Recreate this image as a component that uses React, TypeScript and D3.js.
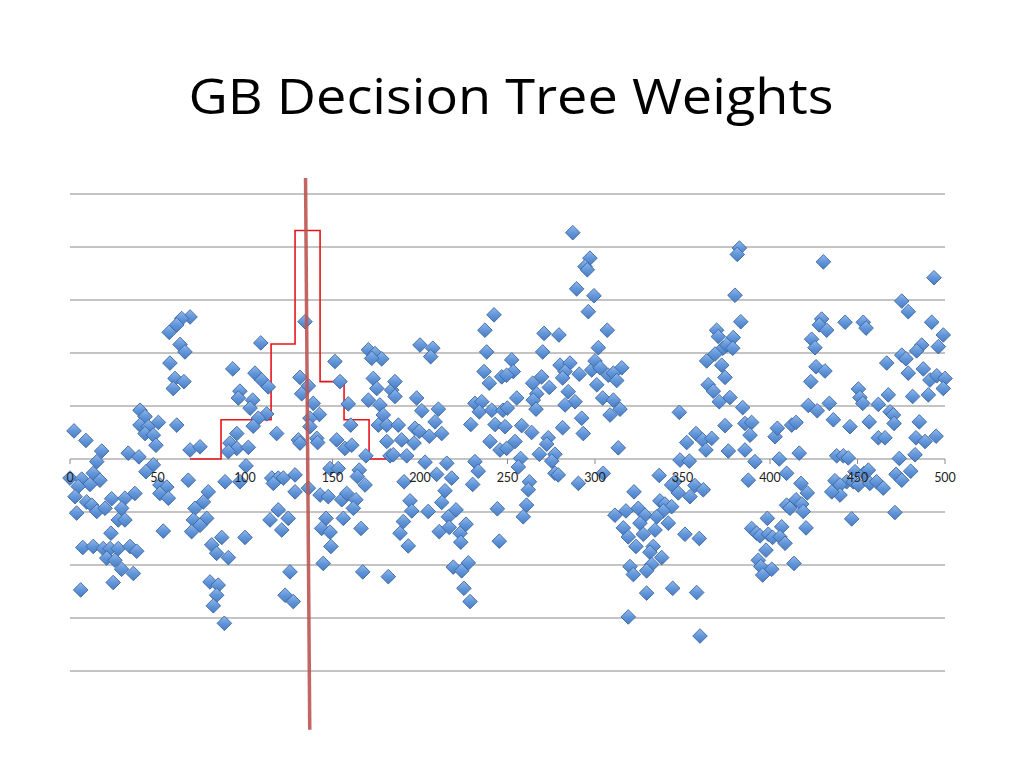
import React from "react";
import * as d3 from "d3";

const chartTitle = "GB Decision Tree Weights";
const xTicks = [0, 50, 100, 150, 200, 250, 300, 350, 400, 450, 500];
const yGridValues = [-4, -3, -2, -1, 0, 1, 2, 3, 4, 5];

// [index, weight] (weight in grid units)
const weights: [number, number][] = [
  [56.7,2.39],[57.1,1.81],[40,0.92],[42.9,0.80],[50.5,0.69],[40,0.64],[44.7,0.61],[42.9,0.48],[47.6,0.45],[49.1,0.26],[2.3,0.53],[9.1,0.35],[18.1,0.15],[15.3,-0.05],[33.3,0.11],[39.4,0.04],[47.6,-0.11],[43.4,-0.24],[0,-0.36],[6.7,-0.38],[13.3,-0.27],[17.1,-0.40],[11.4,-0.48],[4.7,-0.52],[2.9,-0.71],[51.4,-0.49],[55.3,-0.53],[51.4,-0.65],[56.2,-0.74],[9.5,-0.81],[12.4,-0.87],[23.8,-0.75],[31.4,-0.74],[37.1,-0.65],[3.8,-1.02],[15.3,-0.99],[20,-0.93],[29.5,-0.93],[27.6,-1.15],[31.4,-1.15],[53.3,-1.36],[23.4,-1.40],[7.3,-1.67],[13.3,-1.65],[19,-1.69],[22.9,-1.69],[27.6,-1.69],[34.3,-1.65],[38.1,-1.74],[21,-1.87],[25.7,-1.91],[29.5,-2.08],[36.2,-2.16],[24.7,-2.33],[6.1,-2.47],
  [68.6,2.68],[63.8,2.65],[61,2.53],[62.9,2.16],[65.7,2.02],[60,1.52],[65.1,1.46],[59,1.33],[109,2.19],[93,1.70],[105.7,1.62],[109.5,1.49],[113.3,1.36],[97.1,1.28],[96.2,1.15],[104.4,1.11],[102.9,0.96],[112.4,0.85],[107.6,0.77],[104.7,0.62],[61,0.64],[118.1,0.48],[95.3,0.48],[91.4,0.30],[95.3,0.20],[90.5,0.14],[101.9,0.22],[68.6,0.17],[74.3,0.23],[100.6,-0.13],[97.1,-0.43],[88.6,-0.43],[67.6,-0.40],[115.3,-0.36],[119,-0.36],[116.2,-0.46],[79,-0.62],[76.2,-0.81],[71.4,-0.93],[78.1,-1.12],[70.5,-1.15],[74.3,-1.25],[69.5,-1.37],[119,-0.96],[114.3,-1.15],[121,-1.34],[86.7,-1.48],[81,-1.62],[83.8,-1.78],[90.5,-1.86],[100,-1.48],[80,-2.32],[84.7,-2.38],[83.8,-2.57],[81.9,-2.77],[88.2,-3.10],
  [134.3,2.59],[151.4,1.84],[170.5,2.06],[174.3,1.99],[178.1,1.89],[172.4,1.90],[131.4,1.54],[136.2,1.38],[132.4,1.23],[154.3,1.46],[173.3,1.52],[175.3,1.33],[183.8,1.30],[139,1.05],[142.5,0.84],[137.1,0.77],[137.1,0.61],[159,1.04],[170.5,1.11],[177.1,1.02],[179,0.83],[176.2,0.64],[181,0.64],[160.4,0.64],[130.5,0.36],[131.4,0.30],[141,0.39],[141.5,0.31],[152.4,0.36],[157.1,0.20],[161,0.26],[181,0.33],[169.1,0.06],[182.9,0.06],[148.6,-0.18],[153.3,-0.18],[165.3,-0.21],[164.2,-0.33],[168.6,-0.49],[121.9,-0.36],[128.6,-0.30],[128.6,-0.62],[136.2,-0.55],[142.9,-0.68],[147.6,-0.71],[155.3,-0.77],[158.1,-0.65],[163.4,-0.77],[161.9,-0.93],[124.7,-1.12],[146.3,-1.12],[143.8,-1.31],[148.6,-1.38],[156.2,-1.12],[166.3,-1.31],[149.1,-1.65],[144.7,-1.97],[125.7,-2.13],[122.9,-2.57],[127.6,-2.69],[167.3,-2.13],[181.9,-2.22],
  [242.3,2.72],[237.1,2.43],[238.1,2.02],[200,2.15],[207.3,2.09],[206.1,1.93],[236.6,1.65],[239.6,1.43],[246.7,1.55],[185.7,1.46],[185.7,1.18],[198.1,1.15],[201,0.91],[210.5,0.94],[208.6,0.70],[212.4,0.48],[187.6,0.64],[197.1,0.58],[199.6,0.52],[205.3,0.43],[189.5,0.36],[196.6,0.30],[184.7,0.08],[192.4,0.06],[231.4,1.05],[235.3,1.08],[233.9,0.89],[241,0.92],[247.4,0.92],[229,0.65],[242.9,0.65],[240,0.33],[245.7,0.17],[202.9,-0.06],[215.3,-0.08],[209.5,-0.29],[218.1,-0.36],[231.4,-0.05],[233.3,-0.23],[230.1,-0.48],[190.9,-0.43],[214.3,-0.60],[212.4,-0.82],[220.6,-0.96],[216.2,-1.09],[194.3,-0.79],[195.3,-0.98],[204.7,-0.99],[190.5,-1.18],[188.6,-1.40],[193.3,-1.64],[211,-1.37],[216.7,-1.29],[222.9,-1.40],[226.3,-1.23],[223.3,-1.57],[244.2,-0.94],[245.3,-1.55],[219,-2.04],[223.8,-2.11],[227.6,-1.96],[225.1,-2.44],[228.6,-2.69],
  [287.3,4.27],[297.1,3.79],[294.3,3.63],[295.6,3.57],[289.5,3.21],[299.4,3.08],[296.2,2.78],[307,2.43],[270.9,2.37],[279.4,2.34],[270.1,2.02],[252.4,1.87],[253.3,1.65],[249.5,1.58],[269.5,1.55],[264.4,1.43],[273.9,1.35],[266.7,1.23],[264.7,1.11],[266.3,0.94],[255.3,1.15],[249.9,0.96],[280,1.77],[285.7,1.81],[282.9,1.65],[281.5,1.53],[291,1.60],[298.1,1.68],[300,1.85],[301.9,2.10],[302.9,1.72],[307.6,1.58],[301,1.40],[284.7,1.27],[288.6,1.08],[282.9,1.02],[304.4,1.15],[308.6,0.83],[292.4,0.77],[293.3,0.48],[248.6,0.61],[258.1,0.63],[263.8,0.50],[281.5,0.59],[254.3,0.33],[249.5,0.20],[273.3,0.40],[272.4,0.28],[268.2,0.09],[277.1,0.09],[275.3,-0.04],[257.5,0.01],[256.2,-0.15],[277.1,-0.27],[279,-0.30],[290.5,-0.46],[304.7,-0.27],[262.5,-0.43],[261.9,-0.58],[260.9,-0.87],[259,-1.09],
  [315.3,1.72],[310.5,1.62],[312.4,1.48],[310.5,1.11],[314.3,0.94],[313.3,0.21],[369.5,2.43],[370.5,2.31],[373.1,2.09],[363.8,1.85],[368.6,1.98],[372.4,1.77],[364.7,1.40],[367.6,1.28],[371,1.08],[348.2,0.88],[357.7,0.48],[352.4,0.31],[361.5,0.36],[366.7,0.39],[363.4,0.17],[348.6,-0.02],[353.9,-0.04],[336.7,-0.31],[345.7,-0.43],[343.8,-0.49],[357.1,-0.50],[361.9,-0.58],[347.6,-0.64],[354.3,-0.71],[322.3,-0.62],[311.4,-1.06],[317.7,-0.98],[324.7,-0.93],[328.6,-1.06],[337.1,-0.79],[340,-0.85],[343.8,-0.90],[339,-0.98],[335.3,-1.09],[325.7,-1.21],[341.9,-1.21],[316.2,-1.30],[319,-1.47],[327.6,-1.42],[334.3,-1.34],[323.4,-1.65],[333.3,-1.65],[331.4,-1.76],[338.1,-1.86],[351.4,-1.42],[359.6,-1.50],[332.4,-1.99],[320,-2.03],[321.9,-2.18],[329.5,-2.11],[329.5,-2.53],[344.4,-2.44],[358.1,-2.52],[319,-2.98],[360,-3.34],
  [382.5,3.98],[381.3,3.86],[430.5,3.72],[380,3.09],[383.3,2.59],[379,2.29],[375.3,2.15],[378.7,2.09],[374.3,1.54],[377.1,1.16],[384.4,0.97],[374.3,0.63],[385.7,0.67],[389.5,0.69],[388.6,0.45],[402.9,0.42],[404.2,0.58],[412.4,0.64],[414.9,0.69],[376.2,0.15],[385.7,0.17],[391.4,-0.05],[405.3,0],[416.7,0.11],[429.5,2.64],[428.2,2.53],[432.4,2.43],[423.8,2.26],[425.7,2.10],[426.3,1.74],[431.4,1.66],[423.3,1.46],[421.9,1.01],[427,0.91],[433.9,1.05],[387.6,-0.40],[409.5,-0.27],[417.7,-0.46],[421.3,-0.64],[409.5,-0.87],[411.4,-0.93],[414.9,-0.77],[418.1,-0.85],[419,-0.99],[420.6,-1.30],[398.5,-1.12],[389.5,-1.31],[392.4,-1.40],[394.3,-1.45],[399,-1.42],[401.5,-1.48],[406.7,-1.28],[405.7,-1.47],[408.6,-1.59],[397.7,-1.72],[393.3,-1.91],[394.7,-2.03],[401,-2.08],[395.8,-2.19],[413.7,-1.97],
  [493.7,3.42],[475.3,2.98],[479,2.78],[442.9,2.58],[453.3,2.58],[454.9,2.47],[492.4,2.58],[499,2.34],[496.2,2.12],[486.7,2.15],[483.8,2.04],[475.3,1.96],[477.7,1.89],[466.7,1.81],[479,1.62],[487.6,1.70],[491.4,1.49],[495.3,1.57],[500,1.52],[499,1.33],[490.5,1.21],[481.5,1.18],[450.5,1.32],[451.4,1.16],[453,1.05],[461.9,1.03],[467.6,1.21],[468.6,0.89],[470.5,0.83],[470.9,0.67],[436.2,0.74],[445.7,0.61],[456.7,0.70],[485.3,0.70],[461.9,0.40],[465.7,0.40],[483.4,0.40],[488.6,0.33],[494.9,0.43],[438.1,0.06],[441.9,0.06],[444.7,0.02],[473.9,0.01],[482.9,0.08],[480.4,-0.23],[472,-0.29],[475.3,-0.40],[437.1,-0.41],[443.8,-0.43],[448.6,-0.24],[447.6,-0.43],[450.5,-0.49],[453.8,-0.27],[456.2,-0.21],[457.1,-0.46],[460.9,-0.43],[464.7,-0.55],[440,-0.49],[440,-0.68],[435.3,-0.62],[446.7,-1.13],[471.4,-1.01],
];

// step histogram overlay: bin edges (x) and heights
const histEdges = [68.6, 86.3, 114.9, 128.6, 142.9, 156.6, 170.9, 184.6];
const histHeights = [0, 0.74, 2.17, 4.31, 1.46, 0.74, 0];

// vertical threshold line endpoints [x, y]
const thresholdLine: [number, number][] = [[134.6, 5.3], [137.0, -5.11]];

export default function App() {
  const width = 1024;
  const height = 768;
  const x = d3.scaleLinear().domain([0, 500]).range([70, 945]);
  const y = d3.scaleLinear().domain([-4, 5]).range([671, 194]);

  const histPts: [number, number][] = histEdges.map((e, i) => [
    e,
    i < histHeights.length ? histHeights[i] : histHeights[histHeights.length - 1],
  ]);
  const histPath = d3
    .line<[number, number]>()
    .x((d) => x(d[0]))
    .y((d) => y(d[1]))
    .curve(d3.curveStepAfter)(histPts) as string;

  const thrPath = d3
    .line<[number, number]>()
    .x((d) => x(d[0]))
    .y((d) => y(d[1]))(thresholdLine) as string;

  const r = 7.3;
  const diamond = `M0,${-r}L${r},0L0,${r}L${-r},0Z`;

  return (
    <svg
      width={width}
      height={height}
      style={{ position: "absolute", left: 0, top: 0, background: "#fff" }}
    >
      <defs>
        <linearGradient id="dg" x1="0" y1="0" x2="0" y2="1">
          <stop offset="0" stopColor="#93b8ea" />
          <stop offset="0.5" stopColor="#6296da" />
          <stop offset="1" stopColor="#4a7cc2" />
        </linearGradient>
      </defs>
      <text
        x={511}
        y={114}
        textAnchor="middle"
        fontFamily="'Open Sans', Lato, sans-serif"
        fontSize={50}
        textLength={645}
        lengthAdjust="spacingAndGlyphs"
        fill="#000"
      >
        {chartTitle}
      </text>
      <g>
        {yGridValues.map((v) => (
          <line
            key={v}
            x1={x(0)}
            x2={x(500)}
            y1={y(v)}
            y2={y(v)}
            stroke="#8a8a8a"
            strokeWidth={1.2}
          />
        ))}
        {xTicks.map((t) => (
          <line
            key={"t" + t}
            x1={x(t)}
            x2={x(t)}
            y1={y(0)}
            y2={y(0) + 5}
            stroke="#8a8a8a"
            strokeWidth={1}
          />
        ))}
      </g>
      <path d={histPath} fill="none" stroke="#e8141c" strokeWidth={1.6} />
      <g>
        {weights.map((d, i) => (
          <path
            key={i}
            d={diamond}
            transform={`translate(${x(d[0])},${y(d[1])})`}
            fill="url(#dg)"
            stroke="#3a66a0"
            strokeWidth={0.9}
          />
        ))}
      </g>
      <path d={thrPath} fill="none" stroke="#bd5552" strokeOpacity={0.9} strokeWidth={3.5} />
      <g>
        {xTicks.map((t) => (
          <text
            key={"l" + t}
            x={x(t)}
            y={482}
            textAnchor="middle"
            fontFamily="Lato, 'Open Sans', sans-serif"
            fontSize={12.5}
            fill="#222"
          >
            {t}
          </text>
        ))}
      </g>
    </svg>
  );
}
